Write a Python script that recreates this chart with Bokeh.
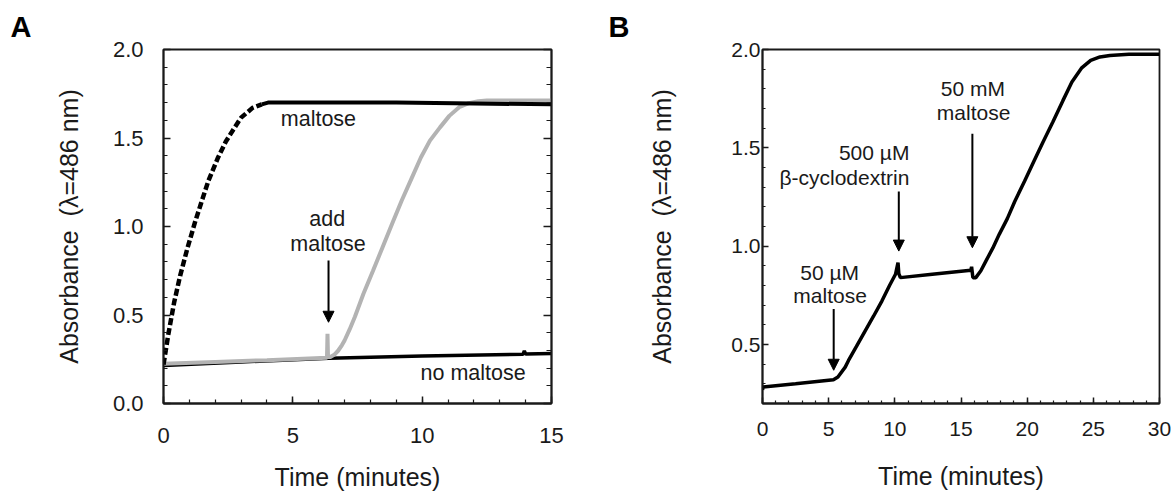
from bokeh.plotting import figure
from bokeh.layouts import row
from bokeh.models import (Range1d, FixedTicker, LinearAxis, NumeralTickFormatter,
                          Label, Arrow, NormalHead)
from bokeh.embed import file_html
from bokeh.resources import INLINE

FONT = "Liberation Sans"

# ---------------- Panel A data ----------------
maltose_t = [0, 0.19, 0.41, 0.64, 0.93, 1.23, 1.45, 1.74, 2.11, 2.41, 2.71, 3.0, 3.44, 3.8,
             4.04, 4.5, 6, 9, 12, 15]
maltose_a = [0.22, 0.394, 0.57, 0.72, 0.88, 1.03, 1.13, 1.26, 1.39, 1.48, 1.55, 1.615, 1.67, 1.69,
             1.70, 1.70, 1.70, 1.70, 1.695, 1.69]
maltose_dashed_until = 3.8

nomalt_t = [0, 3, 6.4, 10, 13.9, 13.95, 14.0, 15]
nomalt_a = [0.215, 0.235, 0.255, 0.268, 0.278, 0.298, 0.279, 0.283]

addmalt_t = [0, 2, 4, 6.32, 6.34, 6.36, 6.45, 6.6, 6.75, 6.9, 7.0, 7.2, 7.4, 7.73, 8.1, 8.47,
             8.85, 9.21, 9.6, 9.95, 10.3, 10.69, 11.05, 11.43, 11.8, 12.17, 12.5, 13, 15]
addmalt_a = [0.225, 0.235, 0.245, 0.258, 0.394, 0.262, 0.263, 0.275, 0.298, 0.33, 0.356, 0.42,
             0.49, 0.62, 0.75, 0.883, 1.02, 1.147, 1.275, 1.39, 1.485, 1.56, 1.625, 1.674, 1.697,
             1.708, 1.712, 1.712, 1.712]

# ---------------- Panel B data ----------------
b_t = [0, 0.05, 2.5, 5.36, 5.7, 6.25, 6.5, 7.1, 7.77, 8.4, 9.03, 9.6, 10.05, 10.24, 10.3, 10.42,
       12.83, 15.74, 15.8, 15.9, 16.12, 16.5, 16.88, 17.4, 17.89, 18.5, 19.06, 19.8, 20.5, 21.2,
       21.94, 22.7, 23.38, 24.1, 24.8, 25.5, 26.25, 27.69, 30]
b_a = [0.27, 0.284, 0.30, 0.321, 0.335, 0.385, 0.419, 0.49, 0.571, 0.645, 0.722, 0.80, 0.857,
       0.916, 0.86, 0.84, 0.857, 0.877, 0.895, 0.84, 0.84, 0.875, 0.924, 0.99, 1.06, 1.14, 1.227,
       1.33, 1.43, 1.53, 1.631, 1.74, 1.835, 1.905, 1.945, 1.962, 1.97, 1.976, 1.976]

a_xticks = [0, 5, 10, 15]
a_yticks = [0.0, 0.5, 1.0, 1.5, 2.0]
b_xticks = [0, 5, 10, 15, 20, 25, 30]
b_yticks = [0.5, 1.0, 1.5, 2.0]

x_label = "Time (minutes)"
y_label = "Absorbance\u00a0 (\u03bb=486 nm)"

INK = "#1a1a1a"


def style_axis(ax, tick_size, label_size, label_standoff, axis_standoff, tin=7, tmin=4):
    ax.major_label_text_font = FONT
    ax.major_label_text_font_size = tick_size
    ax.major_label_text_color = INK
    ax.axis_label_text_font = FONT
    ax.axis_label_text_font_size = label_size
    ax.axis_label_text_font_style = "normal"
    ax.axis_label_text_color = INK
    ax.major_label_standoff = label_standoff
    ax.axis_label_standoff = axis_standoff
    ax.major_tick_in = tin
    ax.major_tick_out = 0
    ax.minor_tick_in = tmin
    ax.minor_tick_out = 0
    ax.axis_line_width = 1.8
    ax.major_tick_line_width = 1.5
    ax.minor_tick_line_width = 1.2
    ax.axis_line_color = INK
    ax.major_tick_line_color = INK
    ax.minor_tick_line_color = INK


def add_text(p, x, y, txt, size, align="center"):
    p.add_layout(Label(x=x, y=y, text=txt, text_font=FONT, text_font_size=size,
                       text_align=align, text_baseline="middle", text_color=INK))


def add_arrow(p, x, y0, y1):
    p.add_layout(Arrow(end=NormalHead(size=11, fill_color="black", line_color="black", line_width=1),
                       x_start=x, y_start=y0, x_end=x, y_end=y1,
                       line_color="black", line_width=2))


def panel_letter(p, letter, offset):
    p.title.text = letter
    p.title.text_font = FONT
    p.title.text_font_size = "29px"
    p.title.text_font_style = "bold"
    p.title.text_color = "black"
    p.title.align = "left"
    p.title.offset = offset
    p.title.standoff = 14


# ================= Panel A =================
pA = figure(width=600, height=493, output_backend="svg", toolbar_location=None,
            x_range=Range1d(0, 15), y_range=Range1d(0, 2.0),
            min_border_left=163, min_border_right=49, min_border_top=49, min_border_bottom=90)
pA.outline_line_color = INK
pA.outline_line_width = 1.8
pA.xgrid.grid_line_color = None
pA.ygrid.grid_line_color = None
panel_letter(pA, "A", -153)

pA.xaxis.ticker = FixedTicker(ticks=a_xticks, minor_ticks=list(range(0, 16)))
pA.yaxis.ticker = FixedTicker(ticks=a_yticks, minor_ticks=[i / 10 for i in range(0, 21)])
pA.xaxis.formatter = NumeralTickFormatter(format="0")
pA.yaxis.formatter = NumeralTickFormatter(format="0.0")
pA.xaxis.axis_label = x_label
pA.yaxis.axis_label = y_label
for ax in pA.xaxis:
    style_axis(ax, "22px", "25px", 24, 17)
for ax in pA.yaxis:
    style_axis(ax, "22px", "25px", 20, 27)

right_ax = LinearAxis(ticker=FixedTicker(ticks=a_yticks, minor_ticks=[i / 10 for i in range(0, 21)]),
                      major_label_overrides={t: "" for t in a_yticks})
style_axis(right_ax, "10px", "10px", 0, 0, tin=8, tmin=5)
pA.add_layout(right_ax, "right")

pA.line(nomalt_t, nomalt_a, line_color="black", line_width=3.5)
pA.line(addmalt_t, addmalt_a, line_color="#b3b3b3", line_width=4)
n_dash = len([t for t in maltose_t if t <= maltose_dashed_until])
pA.line(maltose_t[:n_dash], maltose_a[:n_dash], line_color="black", line_width=4.5, line_dash="7 3")
pA.line(maltose_t[n_dash - 1:], maltose_a[n_dash - 1:], line_color="black", line_width=4)

add_text(pA, 5.99, 1.61, "maltose", "21.5px")
add_text(pA, 6.33, 1.043, "add", "21.5px")
add_text(pA, 6.36, 0.90, "maltose", "21.5px")
add_text(pA, 11.97, 0.170, "no maltose", "21.5px")
add_arrow(pA, 6.38, 0.808, 0.459)

# ================= Panel B =================
pB = figure(width=574, height=493, output_backend="svg", toolbar_location=None,
            x_range=Range1d(0, 30), y_range=Range1d(0.2, 2.0),
            min_border_left=162, min_border_right=15, min_border_top=47, min_border_bottom=90)
pB.outline_line_color = INK
pB.outline_line_width = 1.8
pB.xgrid.grid_line_color = None
pB.ygrid.grid_line_color = None
panel_letter(pB, "B", -154)

pB.xaxis.ticker = FixedTicker(ticks=b_xticks, minor_ticks=list(range(0, 31)))
pB.yaxis.ticker = FixedTicker(ticks=b_yticks, minor_ticks=[i / 10 for i in range(2, 21)])
pB.xaxis.formatter = NumeralTickFormatter(format="0")
pB.yaxis.formatter = NumeralTickFormatter(format="0.0")
pB.xaxis.axis_label = x_label
pB.yaxis.axis_label = y_label
for ax in pB.xaxis:
    style_axis(ax, "21px", "25px", 18, 23, tin=6, tmin=3)
for ax in pB.yaxis:
    style_axis(ax, "21px", "25px", 2, 52, tin=6, tmin=3)

pB.line(b_t, b_a, line_color="black", line_width=3.5)

add_text(pB, 5.08, 0.865, "50 \u00b5M", "21px")
add_text(pB, 5.11, 0.747, "maltose", "21px")
add_arrow(pB, 5.38, 0.68, 0.369)
add_text(pB, 11.1, 1.476, "500 \u00b5M", "21px", align="right")
add_text(pB, 11.1, 1.35, "\u03b2-cyclodextrin", "21px", align="right")
add_arrow(pB, 10.3, 1.278, 0.975)
add_text(pB, 15.9, 1.80, "50 mM", "21px")
add_text(pB, 15.95, 1.678, "maltose", "21px")
add_arrow(pB, 15.86, 1.572, 0.992)

layout = row(pA, pB)
open("out.html", "w").write(file_html(layout, INLINE))
